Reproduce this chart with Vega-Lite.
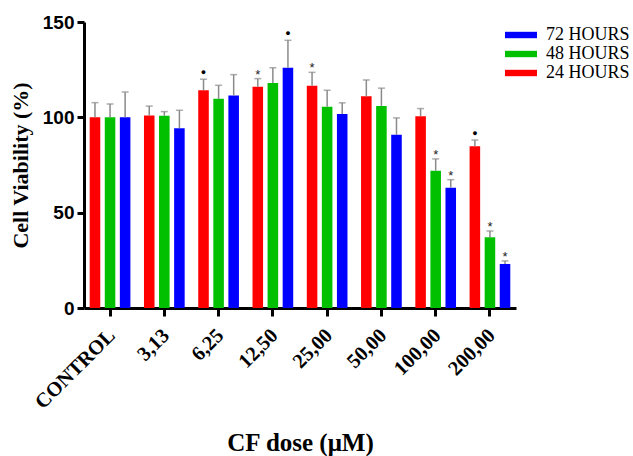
{
  "$schema": "https://vega.github.io/schema/vega-lite/v6.json",
  "autosize": "none",
  "width": 432,
  "height": 286,
  "padding": {"left": 84, "top": 22, "right": 117, "bottom": 148},
  "background": "white",
  "config": {"view": {"stroke": null}},
  "data": {"values": [
    {"dose": "CONTROL", "hours": "24 HOURS", "value": 100, "upper": 107.7, "mark": ""},
    {"dose": "CONTROL", "hours": "48 HOURS", "value": 100, "upper": 107, "mark": ""},
    {"dose": "CONTROL", "hours": "72 HOURS", "value": 100, "upper": 113.3, "mark": ""},
    {"dose": "3,13", "hours": "24 HOURS", "value": 101, "upper": 105.9, "mark": ""},
    {"dose": "3,13", "hours": "48 HOURS", "value": 100.8, "upper": 103, "mark": ""},
    {"dose": "3,13", "hours": "72 HOURS", "value": 94.3, "upper": 103.7, "mark": ""},
    {"dose": "6,25", "hours": "24 HOURS", "value": 114.2, "upper": 120, "mark": "●"},
    {"dose": "6,25", "hours": "48 HOURS", "value": 109.7, "upper": 116.8, "mark": ""},
    {"dose": "6,25", "hours": "72 HOURS", "value": 111.4, "upper": 122.4, "mark": ""},
    {"dose": "12,50", "hours": "24 HOURS", "value": 116, "upper": 120.3, "mark": "*"},
    {"dose": "12,50", "hours": "48 HOURS", "value": 118, "upper": 126, "mark": ""},
    {"dose": "12,50", "hours": "72 HOURS", "value": 126, "upper": 140.4, "mark": "●"},
    {"dose": "25,00", "hours": "24 HOURS", "value": 116.5, "upper": 123.6, "mark": "*"},
    {"dose": "25,00", "hours": "48 HOURS", "value": 105.6, "upper": 114.2, "mark": ""},
    {"dose": "25,00", "hours": "72 HOURS", "value": 101.8, "upper": 107.6, "mark": ""},
    {"dose": "50,00", "hours": "24 HOURS", "value": 111, "upper": 119.6, "mark": ""},
    {"dose": "50,00", "hours": "48 HOURS", "value": 106, "upper": 115.3, "mark": ""},
    {"dose": "50,00", "hours": "72 HOURS", "value": 90.8, "upper": 99.7, "mark": ""},
    {"dose": "100,00", "hours": "24 HOURS", "value": 100.6, "upper": 104.6, "mark": ""},
    {"dose": "100,00", "hours": "48 HOURS", "value": 72, "upper": 78.2, "mark": "*"},
    {"dose": "100,00", "hours": "72 HOURS", "value": 63.1, "upper": 67.3, "mark": "*"},
    {"dose": "200,00", "hours": "24 HOURS", "value": 84.8, "upper": 88.1, "mark": "●"},
    {"dose": "200,00", "hours": "48 HOURS", "value": 37.1, "upper": 40.4, "mark": "*"},
    {"dose": "200,00", "hours": "72 HOURS", "value": 23.1, "upper": 24.7, "mark": "*"}
  ]},
  "encoding": {
    "x": {
      "field": "dose", "type": "nominal",
      "sort": ["CONTROL", "3,13", "6,25", "12,50", "25,00", "50,00", "100,00", "200,00"],
      "scale": {"paddingInner": 0.25, "paddingOuter": 0.105},
      "axis": {
        "title": "CF dose (μM)",
        "titleFont": "Liberation Serif", "titleFontSize": 25, "titleFontWeight": "bold", "titleColor": "black",
        "titleBaseline": "alphabetic", "titleY": 142,
        "labelFont": "Liberation Serif", "labelFontSize": 20.5, "labelFontWeight": "bold", "labelColor": "black",
        "labelAngle": -45, "labelAlign": "right", "labelBaseline": "middle", "labelPadding": 16, "labelOffset": 2,
        "domainColor": "black", "domainWidth": 3,
        "tickColor": "black", "tickWidth": 3, "tickSize": 8
      }
    },
    "xOffset": {
      "field": "hours", "type": "nominal",
      "sort": ["24 HOURS", "48 HOURS", "72 HOURS"],
      "scale": {"paddingInner": 0.3, "paddingOuter": 0}
    }
  },
  "layer": [
    {
      "mark": {"type": "bar"},
      "encoding": {
        "y": {
          "field": "value", "type": "quantitative",
          "scale": {"domain": [0, 150], "nice": false},
          "axis": {
            "title": "Cell Viability (%)",
            "titleFont": "Liberation Serif", "titleFontSize": 22, "titleFontWeight": "bold", "titleColor": "black",
            "titlePadding": 10,
            "values": [0, 50, 100, 150],
            "labelFont": "Liberation Sans", "labelFontSize": 19, "labelFontWeight": "bold", "labelColor": "black",
            "labelPadding": 3,
            "grid": false,
            "domainColor": "black", "domainWidth": 3,
            "tickColor": "black", "tickWidth": 3, "tickSize": 7
          }
        },
        "color": {
          "field": "hours", "type": "nominal",
          "scale": {"domain": ["24 HOURS", "48 HOURS", "72 HOURS"], "range": ["#ff0000", "#00c000", "#0000ff"]},
          "legend": {
            "title": null,
            "values": ["72 HOURS", "48 HOURS", "24 HOURS"],
            "orient": "none", "legendX": 428, "legendY": 4,
            "symbolType": "M-2,-0.4H2V0.4H-2Z", "symbolSize": 256, "symbolStrokeWidth": 0,
            "labelFont": "Liberation Serif", "labelFontSize": 18, "labelColor": "black",
            "labelOffset": 16, "rowPadding": 1, "symbolOffset": 0
          }
        }
      }
    },
    {
      "mark": {"type": "rule", "color": "#8a8a8a", "strokeWidth": 1.5},
      "encoding": {
        "y": {"field": "value", "type": "quantitative"},
        "y2": {"field": "upper"}
      }
    },
    {
      "mark": {"type": "tick", "color": "#8a8a8a", "thickness": 1.5, "size": 7, "orient": "horizontal"},
      "encoding": {
        "y": {"field": "upper", "type": "quantitative"}
      }
    },
    {
      "mark": {"type": "text", "font": "Liberation Sans", "fontSize": 9, "color": "black", "baseline": "middle", "dy": -7},
      "transform": [{"filter": "datum.mark == '●'"}],
      "encoding": {
        "y": {"field": "upper", "type": "quantitative"},
        "text": {"field": "mark"}
      }
    },
    {
      "mark": {"type": "text", "font": "Liberation Sans", "fontSize": 13, "color": "#222222", "baseline": "middle", "dy": -4},
      "transform": [{"filter": "datum.mark == '*'"}],
      "encoding": {
        "y": {"field": "upper", "type": "quantitative"},
        "text": {"field": "mark"}
      }
    }
  ]
}
